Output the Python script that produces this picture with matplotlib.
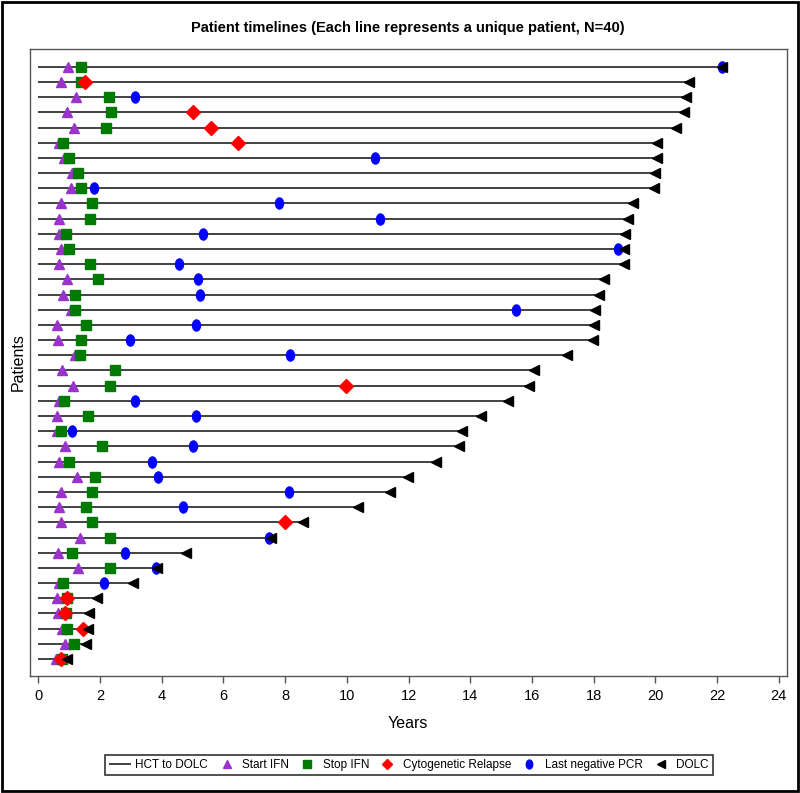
import numpy as np
import matplotlib
matplotlib.use("Agg")
import matplotlib.pyplot as plt
from matplotlib.patches import Rectangle
from matplotlib.path import Path

plt.rcParams['font.family'] = ['Liberation Sans', 'DejaVu Sans']

nan = np.nan
# one entry per patient, top row first (years since HCT)
start_ifn = [0.96, 0.74, 1.23, 0.93, 1.17, 0.67, 0.83, 1.09, 1.06, 0.74,
             0.67, 0.66, 0.72, 0.66, 0.93, 0.80, 1.07, 0.60, 0.64, 1.18,
             0.77, 1.12, 0.66, 0.60, 0.61, 0.87, 0.66, 1.25, 0.72, 0.66,
             0.74, 1.36, 0.64, 1.28, 0.66, 0.60, 0.64, 0.78, 0.85, 0.57]
stop_ifn = [1.39, 1.37, 2.29, 2.36, 2.19, 0.80, 0.98, 1.28, 1.37, 1.75,
            1.66, 0.91, 1.01, 1.66, 1.93, 1.20, 1.20, 1.56, 1.39, 1.36,
            2.50, 2.32, 0.83, 1.61, 0.74, 2.05, 0.99, 1.83, 1.73, 1.53,
            1.75, 2.34, 1.10, 2.34, 0.80, 0.93, 0.90, 0.93, 1.15, 0.77]
relapse = [nan, 1.50, nan, 5.03, 5.60, 6.48, nan, nan, nan, nan,
           nan, nan, nan, nan, nan, nan, nan, nan, nan, nan,
           nan, 9.99, nan, nan, nan, nan, nan, nan, nan, nan,
           7.99, nan, nan, nan, nan, 0.93, 0.87, 1.46, nan, 0.72]
last_pcr = [22.15, nan, 3.13, nan, nan, nan, 10.92, nan, 1.80, 7.79,
            11.08, 5.33, 18.78, 4.55, 5.17, 5.25, 15.50, 5.11, 2.96, 8.17,
            nan, nan, 3.15, 5.11, 1.10, 5.02, 3.67, 3.88, 8.11, 4.69,
            nan, 7.49, 2.80, 3.82, 2.13, nan, nan, nan, nan, nan]
dolc = [22.17, 21.08, 21.00, 20.93, 20.68, 20.06, 20.05, 19.99, 19.97, 19.27,
        19.11, 19.03, 19.00, 19.00, 18.35, 18.19, 18.04, 18.00, 17.98, 17.14,
        16.06, 15.90, 15.22, 14.36, 13.74, 13.63, 12.90, 11.98, 11.39, 10.35,
        8.59, 7.53, 4.80, 3.84, 3.07, 1.89, 1.65, 1.60, 1.56, 0.93]

n = len(dolc)
y = np.arange(n, 0, -1)

# SAS draws the circle a bit taller than wide
circ = Path.unit_circle()
ellipse = Path(circ.vertices * [0.72, 1.0], circ.codes)

fig = plt.figure(figsize=(8, 7.93), dpi=100)
ax = fig.add_axes([0.0369, 0.1475, 0.9465, 0.7907])

ax.hlines(y, 0, dolc, color="#333333", lw=1.3, zorder=1, label="HCT to DOLC")
ax.plot(start_ifn, y, ls="none", marker="^", ms=7.5, color="#9933CC", mec="#9933CC", zorder=2, label="Start IFN")
ax.plot(stop_ifn, y, ls="none", marker="s", ms=6.8, color="#007A00", mec="#007A00", zorder=3, label="Stop IFN")
ax.plot(relapse, y, ls="none", marker="D", ms=6.8, color="#FF0000", mec="#FF0000", zorder=4, label="Cytogenetic Relapse")
ax.plot(last_pcr, y, ls="none", marker=ellipse, ms=8, color="#0000FF", mec="#0000FF", zorder=5, label="Last negative PCR")
ax.plot(dolc, y, ls="none", marker="<", ms=7.5, color="black", zorder=6, label="DOLC")

ax.set_xlim(-0.285, 24.26)
ax.set_ylim(-0.12, 41.17)
ax.set_xticks(np.arange(0, 25, 2))
ax.set_yticks([])
ax.tick_params(axis="x", direction="out", length=5, width=1, color="#555555", labelsize=10.5, pad=4)
for s in ax.spines.values():
    s.set_color("#555555")
    s.set_linewidth(1)

ax.set_xlabel("Years", fontsize=11.5, labelpad=10)
ax.set_ylabel("Patients", fontsize=11.5, labelpad=3)
ax.set_title("Patient timelines (Each line represents a unique patient, N=40)",
             fontsize=10.5, fontweight="bold", pad=12)

leg = fig.legend(loc="center", bbox_to_anchor=(0.511, 0.035), ncol=6, frameon=True,
                 fontsize=8.5, handlelength=1.9, columnspacing=0.6, handletextpad=0.35,
                 borderpad=0.35, fancybox=False, edgecolor="black", markerscale=0.8)
leg.get_frame().set_linewidth(1.2)

fig.patches.append(Rectangle((0.002, 0.002), 0.996, 0.996, transform=fig.transFigure,
                             fill=False, edgecolor="black", lw=2))

fig.savefig("out.png", dpi=100)
